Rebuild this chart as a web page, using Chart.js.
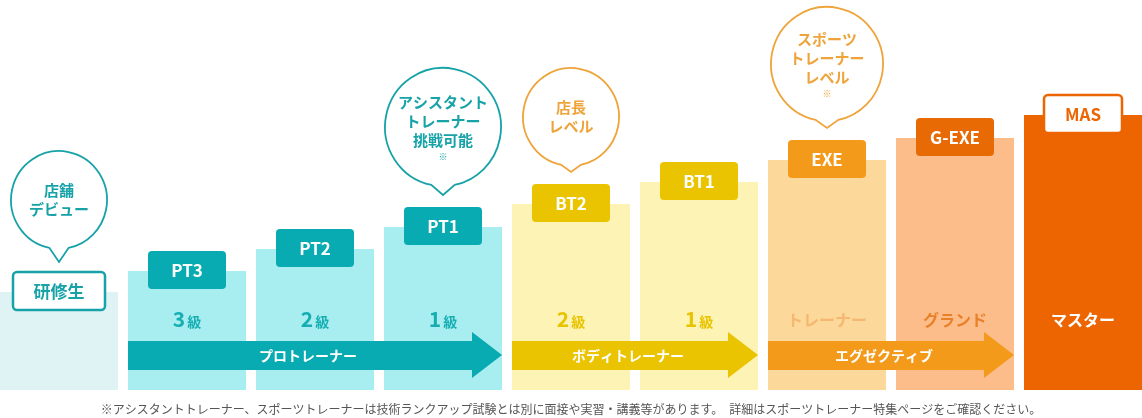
<!DOCTYPE html>
<meta charset="UTF-8">
<style>body{margin:0;background:#fff;overflow:hidden}#wrap{width:1152px;height:418px;margin-left:-5px}</style>
<div id="wrap"><canvas id="myChart"></canvas></div>
<script src="https://cdn.jsdelivr.net/npm/chart.js@4/dist/chart.umd.min.js"></script>
<script>
var ranks = ['研修生','PT3','PT2','PT1','BT2','BT1','EXE','G-EXE','MAS'];
var levels = [98, 119, 141, 163, 186, 208, 230, 252, 275];
var gradeNums = ['', '3', '2', '1', '2', '1', '', '', ''];
var grades = ['', '級', '級', '級', '級', '級', 'トレーナー', 'グランド', 'マスター'];
var barColors = ['#dff3f5','#a8eef0','#a8eef0','#a8eef0','#fcf3b5','#fcf3b5','#fcd89a','#fdbd8a','#ec6500'];
var tagColors = ['#fff','#07abb1','#07abb1','#07abb1','#eac400','#eac400','#f39a1a','#e86a05','#fff'];
var gradeColors = ['','#17aeb3','#17aeb3','#17aeb3','#e8c400','#e8c400','#f5b870','#e8802a','#fff'];
var groups = [
    {label: 'プロトレーナー', from: 1, to: 3, color: '#07abb1'},
    {label: 'ボディトレーナー', from: 4, to: 5, color: '#eac400'},
    {label: 'エグゼクティブ', from: 6, to: 7, color: '#f39a1a'}
];
var bubbles = [
    {at: 0, lines: ['店舗','デビュー'], color: '#17a2a8', cy: 200, r: 48, tip: 262, note: false},
    {at: 3, lines: ['アシスタント','トレーナー','挑戦可能'], color: '#17a2a8', cy: 127, r: 58, tip: 195, note: true},
    {at: 4, lines: ['店長','レベル'], color: '#eea43a', cy: 117, r: 48, tip: 172, note: false},
    {at: 6, lines: ['スポーツ','トレーナー','レベル'], color: '#eea43a', cy: 64, r: 56, tip: 128, note: true}
];
var footnote = '※アシスタントトレーナー、スポーツトレーナーは技術ランクアップ試験とは別に面接や実習・講義等があります。　詳細はスポーツトレーナー特集ページをご確認ください。';

var F = '"Noto Sans CJK JP", "Noto Sans", sans-serif';

function roundRect(ctx, x, y, w, h, r) {
    ctx.beginPath();
    ctx.roundRect(x, y, w, h, r);
}

var overlay = {
    id: 'overlay',
    afterDatasetsDraw: function (chart) {
        var ctx = chart.ctx;
        var bars = chart.getDatasetMeta(0).data;
        ctx.save();
        ctx.textAlign = 'center';
        ctx.textBaseline = 'middle';

        // grade text
        bars.forEach(function (b, i) {
            if (!grades[i]) return;
            ctx.fillStyle = gradeColors[i];
            if (gradeNums[i]) {
                ctx.font = 'bold 21px ' + F;
                var w1 = ctx.measureText(gradeNums[i]).width;
                ctx.font = 'bold 14px ' + F;
                var w2 = ctx.measureText(grades[i]).width;
                var x = b.x - (w1 + w2 + 2) / 2;
                ctx.textAlign = 'left';
                ctx.font = 'bold 21px ' + F;
                ctx.fillText(gradeNums[i], x, 319);
                ctx.font = 'bold 14px ' + F;
                ctx.fillText(grades[i], x + w1 + 2, 322);
                ctx.textAlign = 'center';
            } else {
                ctx.font = 'bold 16px ' + F;
                ctx.fillText(grades[i], b.x, 320);
            }
        });

        // arrows
        groups.forEach(function (g) {
            var x0 = bars[g.from].x - bars[g.from].width / 2;
            var x1 = bars[g.to].x + bars[g.to].width / 2;
            ctx.fillStyle = g.color;
            ctx.beginPath();
            ctx.moveTo(x0, 341);
            ctx.lineTo(x1 - 30, 341);
            ctx.lineTo(x1 - 30, 332);
            ctx.lineTo(x1, 355);
            ctx.lineTo(x1 - 30, 378);
            ctx.lineTo(x1 - 30, 370);
            ctx.lineTo(x0, 370);
            ctx.closePath();
            ctx.fill();
            ctx.fillStyle = '#fff';
            ctx.font = 'bold 14px ' + F;
            ctx.fillText(g.label, (x0 + x1 - 30) / 2 + 8, 356);
        });

        // rank tags
        bars.forEach(function (b, i) {
            var w = i === 0 ? 92 : 78, h = 38;
            var y = b.y - 20;
            roundRect(ctx, b.x - w / 2, y, w, h, 4);
            ctx.fillStyle = tagColors[i];
            ctx.fill();
            if (i === 0 || i === 8) {
                ctx.lineWidth = 2.5;
                ctx.strokeStyle = i === 0 ? '#17a2a8' : '#ec6500';
                ctx.stroke();
            }
            ctx.fillStyle = i === 0 ? '#17a2a8' : (i === 8 ? '#ec6500' : '#fff');
            ctx.font = 'bold 17px ' + F;
            ctx.fillText(ranks[i], b.x, y + h / 2 + 1);
        });

        // speech bubbles
        bubbles.forEach(function (bb) {
            var cx = bars[bb.at].x;
            ctx.beginPath();
            var a = 0.2;
            ctx.ellipse(cx, bb.cy, bb.r, bb.r * 1.02, 0, Math.PI / 2 + a, Math.PI / 2 - a + 2 * Math.PI);
            ctx.lineTo(cx, bb.tip);
            ctx.closePath();
            ctx.fillStyle = '#fff';
            ctx.fill();
            ctx.lineWidth = 1.8;
            ctx.strokeStyle = bb.color;
            ctx.stroke();
            ctx.fillStyle = bb.color;
            ctx.font = 'bold 15px ' + F;
            var n = bb.lines.length;
            var start = bb.cy - (n - 1) * 9.5 - (bb.note ? 6 : 0);
            bb.lines.forEach(function (t, k) {
                ctx.fillText(t, cx, start + k * 19);
            });
            if (bb.note) {
                ctx.font = '9px ' + F;
                ctx.fillText('※', cx, start + n * 19 - 2);
            }
        });

        // footnote
        ctx.fillStyle = '#555';
        ctx.font = '12px ' + F;
        ctx.fillText(footnote, 576, 409);
        ctx.restore();
    }
};

var ctx = document.getElementById('myChart').getContext('2d');
var chart = new Chart(ctx, {
    type: 'bar',
    data: {
        labels: ranks,
        datasets: [{
            data: levels,
            backgroundColor: barColors,
            barPercentage: 1,
            categoryPercentage: 0.922
        }]
    },
    options: {
        responsive: true,
        maintainAspectRatio: false,
        animation: false,
        layout: {padding: {left: 0, right: 0, top: 0, bottom: 28}},
        plugins: {legend: {display: false}, tooltip: {enabled: false}},
        scales: {
            x: {display: false, offset: true},
            y: {display: false, min: 0, max: 390}
        }
    },
    plugins: [overlay]
});
</script>
